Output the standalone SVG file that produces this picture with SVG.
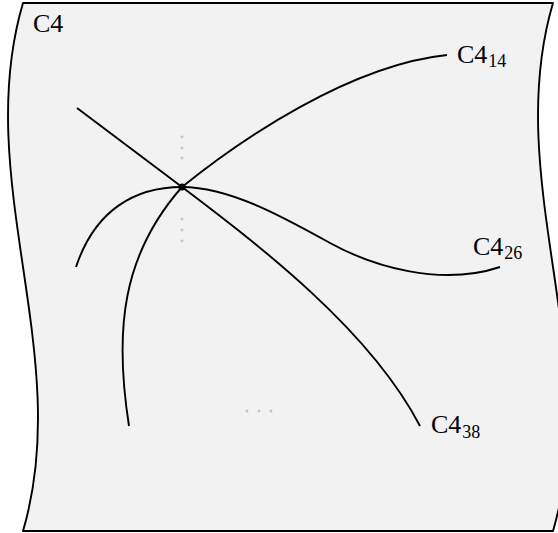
<svg xmlns="http://www.w3.org/2000/svg" width="558" height="533" viewBox="0 0 558 533">
<style>
.sheet{fill:#f2f2f2;stroke:#000;stroke-width:1.9;stroke-linejoin:round}
.curve{fill:none;stroke:#000;stroke-width:1.9;stroke-linecap:butt}
.dot{fill:#c4c4c4}
.lbl{font-size:26px;fill:#000}
.sub{font-size:18px}
</style>
<g id="sheet">
<path class="sheet" d="M23,3 L553,3 C501,179 605,355 553,531 L23,531 C75,355 -29,179 23,3 Z"/>
<text class="lbl" font-family="'Liberation Serif', 'DejaVu Serif', serif" x="33" y="32">C4</text>
</g>
<g id="connectors">
<path class="curve" d="M77,108 L182,187 C260,246 370,330 420,426"/>
<path class="curve" d="M129,426 C114,330 122,255 182,187 C240,140 350,65 447,55"/>
<path class="curve" d="M76,267 C95,210 135,187 182,187 C230,187 285,218 330,243 C372,266 440,287 500,267"/>
</g>
<g id="center">
<circle cx="182" cy="187" r="3.6" fill="#000"/>
</g>
<g id="dots">
<circle class="dot" cx="182" cy="137" r="1.4"/>
<circle class="dot" cx="182" cy="148" r="1.4"/>
<circle class="dot" cx="182" cy="158" r="1.4"/>
<circle class="dot" cx="182" cy="219" r="1.4"/>
<circle class="dot" cx="182" cy="230" r="1.4"/>
<circle class="dot" cx="182" cy="241" r="1.4"/>
<circle class="dot" cx="247" cy="411" r="1.4"/>
<circle class="dot" cx="259" cy="411" r="1.4"/>
<circle class="dot" cx="271" cy="411" r="1.4"/>
</g>
<g id="C4_14"><text class="lbl" font-family="'Liberation Serif', 'DejaVu Serif', serif" x="457" y="63">C4<tspan class="sub" dx="1" dy="4">14</tspan></text></g>
<g id="C4_26"><text class="lbl" font-family="'Liberation Serif', 'DejaVu Serif', serif" x="473" y="255">C4<tspan class="sub" dx="1" dy="4">26</tspan></text></g>
<g id="C4_38"><text class="lbl" font-family="'Liberation Serif', 'DejaVu Serif', serif" x="431" y="433">C4<tspan class="sub" dx="1" dy="5">38</tspan></text></g>
</svg>
